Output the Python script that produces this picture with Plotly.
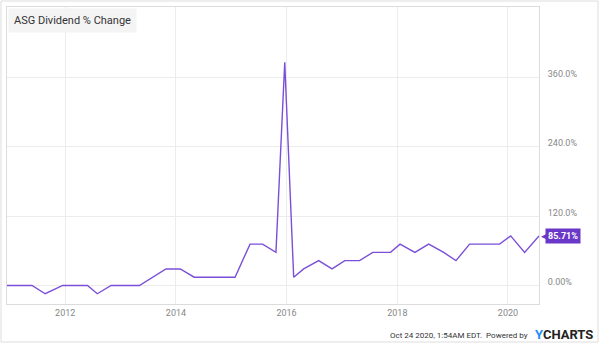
import plotly.graph_objects as go

dates = ["2010-12-13", "2011-05-27", "2011-08-22", "2011-12-16", "2012-05-27", "2012-07-31",
         "2012-10-30", "2013-05-05", "2013-10-27", "2014-01-30", "2014-05-01", "2015-01-26",
         "2015-05-05", "2015-07-27", "2015-10-23", "2015-12-20", "2016-02-17", "2016-04-23",
         "2016-07-31", "2016-10-27", "2017-01-19", "2017-04-27", "2017-07-23", "2017-11-17",
         "2018-01-19", "2018-04-27", "2018-07-27", "2018-11-03", "2019-01-23", "2019-04-23",
         "2019-11-07", "2020-01-19", "2020-04-20", "2020-07-24"]
values = [0, 0, -14.29, 0, 0, -14.29, 0, 0, 28.57, 28.57, 14.29, 14.29,
          71.43, 71.43, 57.14, 385.71, 14.29, 28.57, 42.86, 28.57, 42.86, 42.86, 57.14, 57.14,
          71.43, 57.14, 71.43, 57.14, 42.86, 71.43, 71.43, 85.71, 57.14, 85.71]
ytick_vals = [0, 120, 240, 360]
ytick_text = ["0.00%", "120.0%", "240.0%", "360.0%"]
xtick_vals = ["2012-01-01", "2014-01-01", "2016-01-01", "2018-01-01", "2020-01-01"]
xtick_text = ["2012", "2014", "2016", "2018", "2020"]
title = "ASG Dividend % Change"
footer = "Oct 24 2020, 1:54AM EDT.  Powered by"

line_color = "#7b4fd8"
grid = "#ececec"
border = "#dcdcdc"

fig = go.Figure()
fig.add_trace(go.Scatter(x=dates, y=values, mode="lines",
                         line=dict(color=line_color, width=1.4), hoverinfo="skip"))

fig.update_layout(
    width=600, height=344,
    margin=dict(l=7, r=61, t=7, b=40),
    paper_bgcolor="white", plot_bgcolor="white",
    showlegend=False,
    font=dict(family="Roboto", size=9, color="#888"),
    xaxis=dict(range=[dates[0], dates[-1]], tickvals=xtick_vals, ticktext=xtick_text,
               showgrid=True, gridcolor=grid, gridwidth=1, zeroline=False,
               showline=True, linecolor=border, linewidth=1, mirror=True,
               ticks="", tickfont=dict(size=9, color="#888")),
    yaxis=dict(range=[-32, 481], tickvals=ytick_vals, ticktext=ytick_text, side="right",
               showgrid=True, gridcolor=grid, gridwidth=1, zeroline=False,
               showline=True, linecolor=border, linewidth=1, mirror=True,
               ticks="", ticklabelposition="outside top", ticklabelstandoff=6,
               ticklabelshift=3,
               tickfont=dict(size=9, color="#888")),
)

# outer chart border
fig.add_shape(type="rect", xref="paper", yref="paper",
              x0=-6/532, x1=(598-7)/532, y0=-(342-304)/297, y1=1+6/297,
              line=dict(color="#dddddd", width=1), fillcolor="rgba(0,0,0,0)", layer="below")

# title box
fig.add_annotation(xref="paper", yref="paper", x=0, y=1, xanchor="left", yanchor="top",
                   text=title, showarrow=False, bgcolor="#f4f4f4",
                   font=dict(family="Roboto", size=11, color="#333"),
                   borderpad=5, xshift=1, yshift=-1)

# last value label
fig.add_annotation(x=dates[-1], y=values[-1], xref="x", yref="y", xanchor="left", yanchor="middle",
                   text="<b>%.2f%%</b>" % values[-1], showarrow=False, bgcolor="#6a38c9",
                   font=dict(family="Roboto", size=9, color="white"), borderpad=2, xshift=6)
fig.add_annotation(x=dates[-1], y=values[-1], xref="x", yref="y", xanchor="left", yanchor="middle",
                   text="◀", showarrow=False,
                   font=dict(family="DejaVu Sans", size=9, color="#6a38c9"), xshift=0)

# footer
fig.add_annotation(xref="paper", yref="paper", x=(530-7)/532, y=-(335-304)/297,
                   xanchor="right", yanchor="middle", text=footer, showarrow=False,
                   font=dict(family="Roboto", size=8, color="#333"))
fig.add_annotation(xref="paper", yref="paper", x=(533-7)/532, y=-(334-304)/297,
                   xanchor="left", yanchor="middle",
                   text="<span style='color:#1f8ef1'>Y</span>CHARTS", showarrow=False,
                   font=dict(family="Roboto", size=13, color="#222", weight="bold"))

fig.write_html("out.html")
